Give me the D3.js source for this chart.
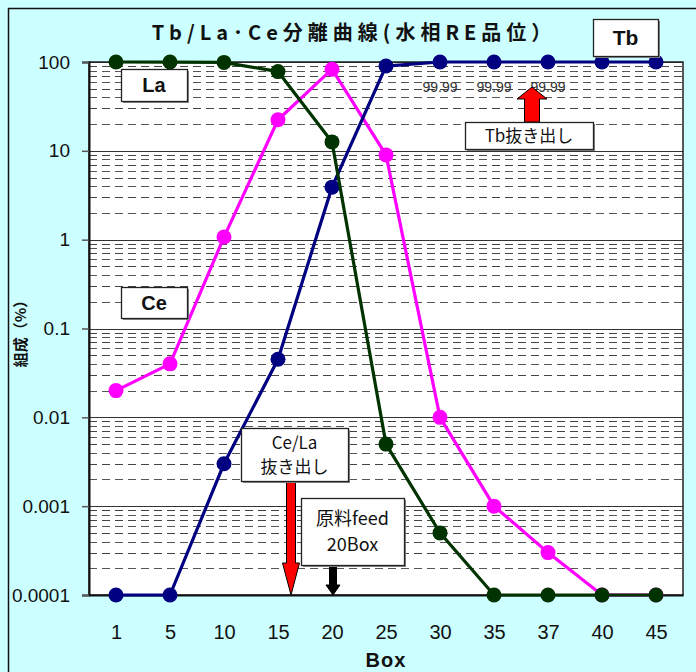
<!DOCTYPE html>
<html><head><meta charset="utf-8">
<script src="https://cdn.jsdelivr.net/npm/d3@7"></script>
<style>
html,body{margin:0;padding:0;background:#ccffff;}
svg{display:block;}
</style></head>
<body>
<svg id="chart" width="696" height="672"></svg>
<script>
// ---- data ----
const boxes = ["1","5","10","15","20","25","30","35","37","40","45"];
const tbValues = [0.0001,0.0001,0.003,0.045,3.9,90,99.99,99.99,99.99,99.99,99.99];
const laValues = [99.99,99.9,99,78,12.6,0.005,0.0005,0.0001,0.0001,0.0001,0.0001];
const ceValues = [0.02,0.04,1.07,22.4,83,9.0,0.01,0.001,0.0003,0.0001,0.0001];
const yTickValues = [100,10,1,0.1,0.01,0.001,0.0001];
const yTickLabels = ["100","10","1","0.1","0.01","0.001","0.0001"];
const dataLabelBoxes = ["30","35","37"];
const dataLabelTexts = ["99.99","99.99","99.99"];
const titleText = "Tb/La･Ce分離曲線(水相RE品位）";
const yTitle = "組成（%）";
const xTitle = "Box";

(function(){
const svg = d3.select("#chart");
const W = 696, H = 672;
const pL = 89, pR = 683, pT = 62, pB = 595;

// background + outer border
svg.append("rect").attr("x",0).attr("y",0).attr("width",W).attr("height",H).attr("fill","#ccffff");
svg.append("path").attr("d",`M8.5,${H} L8.5,8.5 L${W},8.5`).attr("fill","none").attr("stroke","#111").attr("stroke-width",1.5);

const x = d3.scalePoint().domain(boxes).range([pL,pR]).padding(0.5);
const y = d3.scaleLog().domain([0.0001,100]).range([pB,pT]);

// plot area
svg.append("rect").attr("x",pL).attr("y",pT).attr("width",pR-pL).attr("height",pB-pT).attr("fill","#ffffff");

// minor dashed gridlines
const minor = [];
for (let e=-4; e<2; e++) for (let m=2; m<=9; m++) minor.push(m*Math.pow(10,e));
svg.append("g").selectAll("line").data(minor).join("line")
  .attr("x1",pL).attr("x2",pR)
  .attr("y1",d=>Math.round(y(d))+0.5).attr("y2",d=>Math.round(y(d))+0.5)
  .attr("stroke",(d,i)=> (i%2? "#444":"#555")).attr("stroke-width",1.2).attr("stroke-dasharray","8,5");
// major gridlines
svg.append("g").selectAll("line").data(yTickValues).join("line")
  .attr("x1",pL).attr("x2",pR)
  .attr("y1",d=>Math.round(y(d))+0.5).attr("y2",d=>Math.round(y(d))+0.5)
  .attr("stroke","#333").attr("stroke-width",1.2);

// plot border
svg.append("rect").attr("x",pL).attr("y",pT).attr("width",pR-pL).attr("height",pB-pT)
  .attr("fill","none").attr("stroke","#222").attr("stroke-width",1.5);

// y axis
const yAxis = d3.axisLeft(y).tickValues(yTickValues).tickFormat((d,i)=>yTickLabels[i]).tickSize(7).tickPadding(12);
const gy = svg.append("g").attr("transform",`translate(${pL},0)`).call(yAxis);
gy.select(".domain").attr("stroke","#111").attr("stroke-width",2);
gy.selectAll(".tick line").attr("stroke","#555").attr("stroke-width",1.5);
gy.selectAll("text").attr("font-family","'Liberation Sans Narrow','Liberation Sans',Arial,sans-serif").attr("font-size",19).attr("fill","#111");

// x axis
const xAxis = d3.axisBottom(x).tickSize(0).tickPadding(30);
const gx = svg.append("g").attr("transform",`translate(0,${pB})`).call(xAxis);
gx.select(".domain").attr("stroke","#111").attr("stroke-width",2);
gx.selectAll("text").attr("font-family","'Liberation Sans Narrow','Liberation Sans',Arial,sans-serif").attr("font-size",20).attr("fill","#111");

// titles
svg.append("text").attr("x",354).attr("y",40).attr("text-anchor","middle")
  .attr("font-family","'Noto Sans CJK JP',sans-serif").attr("font-weight","bold").attr("font-size",20)
  .attr("letter-spacing","5px").attr("fill","#111").text(titleText);
svg.append("text").attr("transform","translate(26,330) rotate(-90)").attr("text-anchor","middle")
  .attr("font-family","'Noto Sans CJK JP',sans-serif").attr("font-weight","bold").attr("font-size",15)
  .attr("fill","#111").text(yTitle);
svg.append("text").attr("x",386).attr("y",667).attr("text-anchor","middle")
  .attr("font-family","'Liberation Sans',Arial,sans-serif").attr("font-weight","bold").attr("font-size",20)
  .attr("letter-spacing","1px").attr("fill","#111").text(xTitle);

// series
const series = [
  {name:"Ce", values:ceValues, color:"#ff00ff"},
  {name:"Tb", values:tbValues, color:"#000080"},
  {name:"La", values:laValues, color:"#003300"}
];
const line = d3.line().x((d,i)=>x(boxes[i])).y(d=>y(d));
series.forEach(s=>{
  const g = svg.append("g");
  g.append("path").datum(s.values).attr("d",line).attr("fill","none").attr("stroke",s.color).attr("stroke-width",3.2);
  g.selectAll("circle").data(s.values).join("circle")
    .attr("cx",(d,i)=>x(boxes[i])).attr("cy",d=>y(d)).attr("r",7.5).attr("fill",s.color);
});

// data labels 99.99
svg.append("g").selectAll("text").data(dataLabelBoxes).join("text")
  .attr("x",d=>x(d)).attr("y",92).attr("text-anchor","middle")
  .attr("font-family","'Liberation Sans Narrow','Liberation Sans',Arial,sans-serif").attr("font-size",14)
  .attr("fill","#333").text((d,i)=>dataLabelTexts[i]);

// label boxes
function labelBox(x0,y0,w,h,lines,opts){
  opts = opts||{};
  svg.append("rect").attr("x",x0+2).attr("y",y0+2).attr("width",w).attr("height",h).attr("fill","#888");
  svg.append("rect").attr("x",x0+0.5).attr("y",y0+0.5).attr("width",w).attr("height",h).attr("fill","#fff").attr("stroke","#222").attr("stroke-width",1.3);
  const fs = opts.fs||18;
  const lh = opts.lh||fs*1.3;
  const cy = y0 + h/2 - (lines.length-1)*lh/2;
  lines.forEach((t,i)=>{
    svg.append("text").attr("x",x0+w/2).attr("y",cy+i*lh).attr("dy","0.36em").attr("text-anchor","middle")
      .attr("font-family",opts.family||"'Noto Sans CJK JP',sans-serif").attr("font-weight",opts.bold?"bold":"normal")
      .attr("font-size",fs).attr("fill","#111").text(t);
  });
}
labelBox(593,19,65,37,["Tb"],{fs:21,bold:true,family:"'Liberation Sans',Arial,sans-serif"});
labelBox(121,69,66,32,["La"],{fs:20,bold:true,family:"'Liberation Sans',Arial,sans-serif"});
labelBox(121,287,66,31,["Ce"],{fs:20,bold:true,family:"'Liberation Sans',Arial,sans-serif"});

// arrows
function arrow(xc, yStart, yTip, shaftW, headW, headL, color){
  const dir = yTip>yStart?1:-1;
  const yb = yTip - dir*headL;
  const p = `M${xc-shaftW/2},${yStart} L${xc-shaftW/2},${yb} L${xc-headW/2},${yb} L${xc},${yTip} L${xc+headW/2},${yb} L${xc+shaftW/2},${yb} L${xc+shaftW/2},${yStart} Z`;
  svg.append("path").attr("d",p).attr("fill",color).attr("stroke","#000").attr("stroke-width",1);
}
// Tb 抜き出し (up arrow)
arrow(532,122,87,15,30,12,"#ff0000");
labelBox(465,122,128,27,["Tb抜き出し"],{fs:17});
// Ce/La 抜き出し (down arrow)
arrow(291,481,595,9,17,32,"#ff0000");
labelBox(241,428,107,53,["Ce/La","抜き出し"],{fs:17,lh:24});
// feed arrow
arrow(x("20")+1,565,595,7,14,10,"#000000");
labelBox(301,498,103,67,["原料feed","20Box"],{fs:18,lh:26});
})();
</script>
</body></html>
